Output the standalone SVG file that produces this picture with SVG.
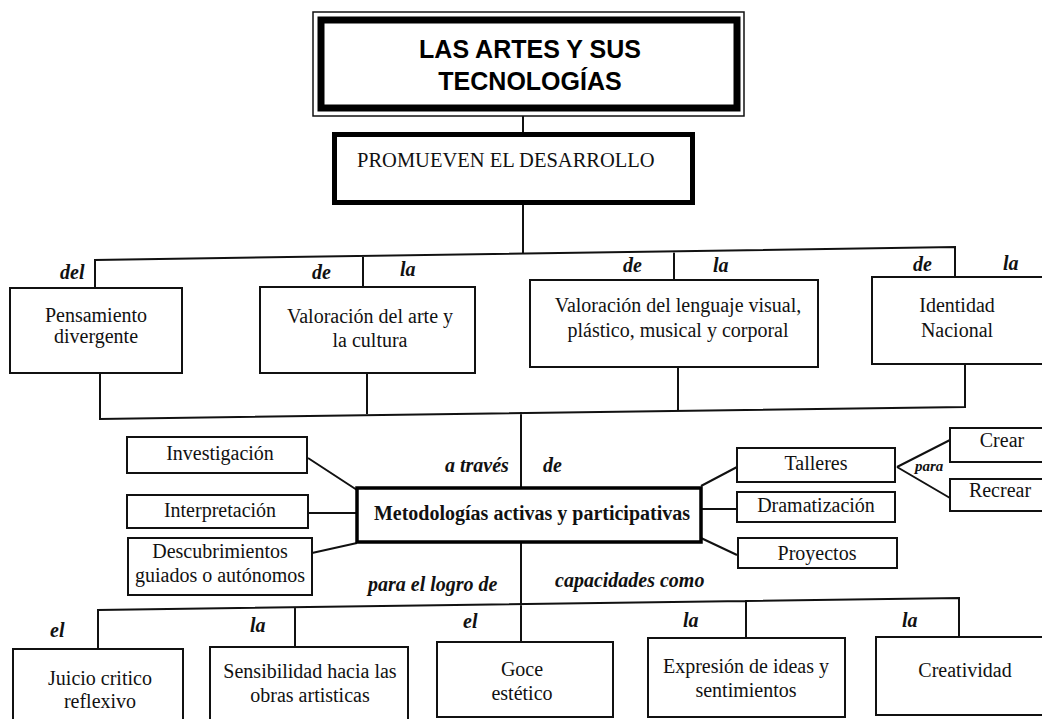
<svg xmlns="http://www.w3.org/2000/svg" width="1042" height="719" viewBox="0 0 1042 719">
<style>
.bx{fill:#fff;stroke:#111;stroke-width:2}
.t{font-family:"Liberation Serif","Times New Roman",serif;font-size:20px;fill:#111;text-anchor:middle}
.lb{font-family:"Liberation Serif","Times New Roman",serif;font-size:20px;font-style:italic;font-weight:bold;fill:#111}
.ln{stroke:#111;stroke-width:2;fill:none}
.ti{font-family:"Liberation Sans",Arial,sans-serif;font-weight:bold;font-size:25px;text-anchor:middle;fill:#000}
</style>
<rect width="1042" height="719" fill="#fff"/>
<g id="connectors">
<path class="ln" d="M523 116V132M523 205V254"/>
<path class="ln" d="M95 288V260L955 247V276M363 256V287M674 251V280"/>
<path class="ln" d="M100 373V419L965 407V364M367 373V414M678 367V410M521 412V488"/>
<path class="ln" d="M308 458L357 490M308 513H357M312 553L357 543"/>
<path class="ln" d="M701 486L737 467M701 509H737M701 538L737 555M897 467L950 440M897 467L950 498"/>
<path class="ln" d="M521 542V642M98 649V610L959 598V637M295 607V647M746 600V638"/>
</g>
<g id="labels">
<text class="lb" x="60" y="279">del</text>
<text class="lb" x="312" y="279">de</text>
<text class="lb" x="400" y="276">la</text>
<text class="lb" x="623" y="272">de</text>
<text class="lb" x="713" y="272">la</text>
<text class="lb" x="913" y="271">de</text>
<text class="lb" x="1003" y="270">la</text>
<text class="lb" x="445" y="472">a través</text>
<text class="lb" x="543" y="472">de</text>
<text class="lb" x="915" y="471" style="font-size:15px">para</text>
<text class="lb" x="368" y="591">para el logro de</text>
<text class="lb" x="555" y="587">capacidades como</text>
<text class="lb" x="50" y="637">el</text>
<text class="lb" x="250" y="632">la</text>
<text class="lb" x="463" y="628">el</text>
<text class="lb" x="683" y="627">la</text>
<text class="lb" x="902" y="627">la</text>
</g>
<g id="title">
<rect x="313" y="12" width="431" height="104" fill="#fff" stroke="#111" stroke-width="1.5"/>
<rect x="321" y="20" width="416" height="88" fill="none" stroke="#000" stroke-width="7"/>
<text class="ti" x="530" y="58">LAS ARTES Y SUS</text>
<text class="ti" x="530" y="90">TECNOLOGÍAS</text>
</g>
<g id="promueven">
<rect x="334.5" y="134.5" width="358" height="68" fill="#fff" stroke="#000" stroke-width="5"/>
<text x="357" y="167" style="font-family:'Liberation Serif','Times New Roman',serif;font-size:20.5px;fill:#111">PROMUEVEN EL DESARROLLO</text>
</g>
<g id="pensamiento">
<rect class="bx" x="10" y="288" width="172" height="85"/>
<text class="t" x="96" y="322">Pensamiento</text>
<text class="t" x="96" y="343">divergente</text>
</g>
<g id="valoracion-arte">
<rect class="bx" x="260" y="287" width="215" height="86"/>
<text class="t" x="370" y="323">Valoración del arte y</text>
<text class="t" x="370" y="347">la cultura</text>
</g>
<g id="valoracion-lenguaje">
<rect class="bx" x="530" y="280" width="288" height="87"/>
<text class="t" x="678" y="312">Valoración del lenguaje visual,</text>
<text class="t" x="678" y="337">plástico, musical y corporal</text>
</g>
<g id="identidad">
<rect class="bx" x="872" y="277" width="180" height="87"/>
<text class="t" x="957" y="312">Identidad</text>
<text class="t" x="957" y="337">Nacional</text>
</g>
<g id="metodologias">
<rect x="357" y="488" width="344" height="54" fill="#fff" stroke="#000" stroke-width="3.5"/>
<text class="t" x="532" y="520" style="font-weight:bold">Metodologías activas y participativas</text>
</g>
<g id="investigacion">
<rect class="bx" x="127" y="437" width="180" height="36"/>
<text class="t" x="220" y="460">Investigación</text>
</g>
<g id="interpretacion">
<rect class="bx" x="127" y="495" width="181" height="33"/>
<text class="t" x="220" y="517">Interpretación</text>
</g>
<g id="descubrimientos">
<rect class="bx" x="128" y="538" width="184" height="57"/>
<text class="t" x="220" y="558">Descubrimientos</text>
<text class="t" x="220" y="582">guiados o autónomos</text>
</g>
<g id="talleres">
<rect class="bx" x="737" y="448" width="158" height="34"/>
<text class="t" x="816" y="470">Talleres</text>
</g>
<g id="dramatizacion">
<rect class="bx" x="737" y="492" width="158" height="30"/>
<text class="t" x="816" y="512">Dramatización</text>
</g>
<g id="proyectos">
<rect class="bx" x="738" y="538" width="159" height="30"/>
<text class="t" x="817" y="560">Proyectos</text>
</g>
<g id="crear">
<rect class="bx" x="950" y="428" width="100" height="34"/>
<text class="t" x="1002" y="447">Crear</text>
</g>
<g id="recrear">
<rect class="bx" x="950" y="479" width="100" height="32"/>
<text class="t" x="1000" y="497">Recrear</text>
</g>
<g id="juicio">
<rect class="bx" x="13" y="649" width="170" height="80"/>
<text class="t" x="100" y="685">Juicio critico</text>
<text class="t" x="100" y="708">reflexivo</text>
</g>
<g id="sensibilidad">
<rect class="bx" x="210" y="647" width="198" height="82"/>
<text class="t" x="310" y="678">Sensibilidad hacia las</text>
<text class="t" x="310" y="702">obras artisticas</text>
</g>
<g id="goce">
<rect class="bx" x="437" y="642" width="176" height="75"/>
<text class="t" x="522" y="676">Goce</text>
<text class="t" x="522" y="700">estético</text>
</g>
<g id="expresion">
<rect class="bx" x="648" y="638" width="197" height="79"/>
<text class="t" x="746" y="673">Expresión de ideas y</text>
<text class="t" x="746" y="697">sentimientos</text>
</g>
<g id="creatividad">
<rect class="bx" x="876" y="637" width="176" height="78"/>
<text class="t" x="965" y="677">Creatividad</text>
</g>
</svg>
